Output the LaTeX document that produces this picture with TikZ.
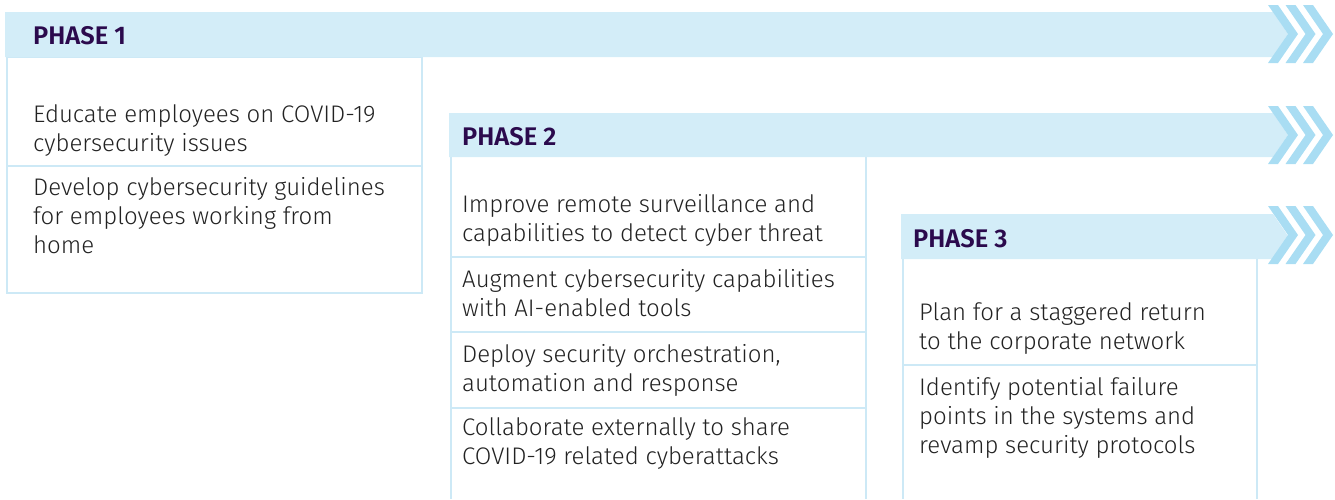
\documentclass[tikz,border=0pt]{standalone}
\usepackage{fontspec}
\setmainfont{Fira Sans}[UprightFont=* Light, BoldFont=* SemiBold]
\definecolor{bandblue}{HTML}{D3EDF8}
\definecolor{chevblue}{HTML}{A9DDF3}
\definecolor{lineblue}{HTML}{CDE9F6}
\definecolor{headpurple}{HTML}{2B0A4D}
\definecolor{bodygray}{HTML}{222222}
\tikzset{
  band/.style={fill=bandblue, draw=none},
  chev/.style={fill=chevblue, draw=none},
  boxline/.style={draw=lineblue, line width=2.5pt},
  head/.style={font=\fontsize{25.5}{28}\selectfont\bfseries, text=headpurple, anchor=base west, inner sep=0pt},
  item/.style={font=\fontsize{24}{29}\selectfont, text=bodygray, align=left, anchor=base west, inner sep=0pt}
}

\begin{document}
\begin{tikzpicture}[x=1pt, y=-1pt]
  \useasboundingbox (0,0) rectangle (1335,499);

  % boxes
  \draw[boxline] (7,57) rectangle (422,293);
  \draw[boxline] (7,166) -- (422,166);
  \draw[boxline] (451,157) -- (451,499);
  \draw[boxline] (866,157) -- (866,499);
  \draw[boxline] (451,257) -- (866,257);
  \draw[boxline] (451,332) -- (866,332);
  \draw[boxline] (451,408) -- (866,408);
  \draw[boxline] (903,259) -- (903,499);
  \draw[boxline] (1257,259) -- (1257,499);
  \draw[boxline] (903,365) -- (1257,365);

  % bands
  \fill[band] (5,12) -- (1273,12) -- (1288,34) -- (1273,57) -- (5,57) -- cycle;
  \fill[band] (449,113) -- (1273,113) -- (1288,135) -- (1273,157) -- (449,157) -- cycle;
  \fill[band] (901,214) -- (1273,214) -- (1288,236) -- (1273,259) -- (901,259) -- cycle;
  \foreach \y in {34,135,235} {
    \foreach \x in {1268,1285.5,1303} {
      \fill[chev] (\x,\y-29) -- (\x+10,\y-29) -- (\x+30,\y) -- (\x+10,\y+29)
        -- (\x,\y+29) -- (\x+20,\y) -- cycle;
    }
  }

  % texts (multi-line nodes sit on their last line)
  \node[head] (h1) at (33,44) {PHASE 1};
  \node[head] (h2) at (462,145) {PHASE 2};
  \node[head] (h3) at (913,247) {PHASE 3};

  \node[item] (p1a) at (33,151) {Educate employees on COVID-19\\cybersecurity issues};
  \node[item] (p1b) at (33,253) {Develop cybersecurity guidelines\\for employees working from\\home};

  \node[item] (p2a) at (462,241) {Improve remote surveillance and\\capabilities to detect cyber threat};
  \node[item] (p2b) at (462,316) {Augment cybersecurity capabilities\\with AI-enabled tools};
  \node[item] (p2c) at (462,391) {Deploy security orchestration,\\automation and response};
  \node[item] (p2d) at (462,464) {Collaborate externally to share\\COVID-19 related cyberattacks};

  \node[item] (p3a) at (919,349) {Plan for a staggered return\\to the corporate network};
  \node[item] (p3b) at (919,453) {Identify potential failure\\points in the systems and\\revamp security protocols};
\end{tikzpicture}
\end{document}
